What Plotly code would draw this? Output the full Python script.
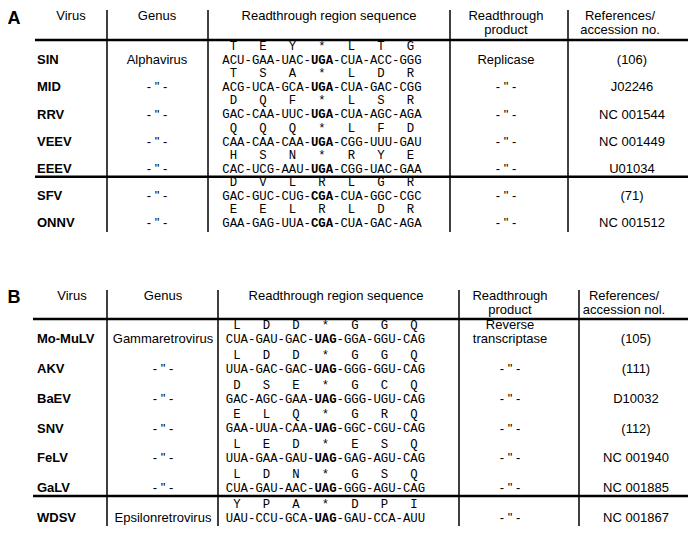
import plotly.graph_objects as go

# ---------------- Data ----------------
headers_a = ["Virus", "Genus", "Readthrough region sequence", "Readthrough\nproduct", "References/\naccession no."]
headers_b = ["Virus", "Genus", "Readthrough region sequence", "Readthrough\nproduct", "References/\naccession nol."]

DITTO = '- " -'

a_virus = ["SIN", "MID", "RRV", "VEEV", "EEEV", "SFV", "ONNV"]
a_genus = ["Alphavirus", DITTO, DITTO, DITTO, DITTO, DITTO, DITTO]
a_aa = ["TEY*LTG", "TSA*LDR", "DQF*LSR", "QQQ*LFD", "HSN*RYE", "DVLRLGR", "EELRLDR"]
a_codons = [
    "ACU-GAA-UAC-UGA-CUA-ACC-GGG",
    "ACG-UCA-GCA-UGA-CUA-GAC-CGG",
    "GAC-CAA-UUC-UGA-CUA-AGC-AGA",
    "CAA-CAA-CAA-UGA-CGG-UUU-GAU",
    "CAC-UCG-AAU-UGA-CGG-UAC-GAA",
    "GAC-GUC-CUG-CGA-CUA-GGC-CGC",
    "GAA-GAG-UUA-CGA-CUA-GAC-AGA",
]
a_product = ["Replicase", DITTO, DITTO, DITTO, DITTO, DITTO, DITTO]
a_refs = ["(106)", "J02246", "NC 001544", "NC 001449", "U01034", "(71)", "NC 001512"]

b_virus = ["Mo-MuLV", "AKV", "BaEV", "SNV", "FeLV", "GaLV", "WDSV"]
b_genus = ["Gammaretrovirus", DITTO, DITTO, DITTO, DITTO, DITTO, "Epsilonretrovirus"]
b_aa = ["LDD*GGQ", "LDD*GGQ", "DSE*GCQ", "ELQ*GRQ", "LED*ESQ", "LDN*GSQ", "YPA*DPI"]
b_codons = [
    "CUA-GAU-GAC-UAG-GGA-GGU-CAG",
    "UUA-GAC-GAC-UAG-GGG-GGU-CAG",
    "GAC-AGC-GAA-UAG-GGG-UGU-CAG",
    "GAA-UUA-CAA-UAG-GGC-CGU-CAG",
    "UUA-GAA-GAU-UAG-GAG-AGU-CAG",
    "CUA-GAU-AAC-UAG-GGG-AGU-CAG",
    "UAU-CCU-GCA-UAG-GAU-CCA-AUU",
]
b_product = ["Reverse\ntranscriptase", DITTO, DITTO, DITTO, DITTO, DITTO, DITTO]
b_refs = ["(105)", "(111)", "D10032", "(112)", "NC 001940", "NC 001885", "NC 001867"]

# ---------------- Layout geometry (page pixels) ----------------
W, H = 697, 539
OFF = 8  # default body margin of the html page
SANS = "Liberation Sans, Arial, Helvetica, sans-serif"
MONO = "Liberation Mono, Courier New, monospace"
INK = "#000000"

panel_a = dict(label="A", label_y=19, vlines=[107, 208, 450, 568], vtop=10, vbot=232, hline_y=40,
               hx0=35, hx1=688, virus_x=37, virus_hdr_x=71, genus_x=157, seq_x=322,
               seq_hdr_x=329, prod_x=506, ref_x=632, ref_hdr_x=620, hdr_y=17,
               row0=61, dy=27.2, sep_after=4, headers=headers_a, virus=a_virus,
               genus=a_genus, aa=a_aa, codons=a_codons, product=a_product, refs=a_refs)
panel_b = dict(label="B", label_y=298, vlines=[107, 218, 459, 579], vtop=290, vbot=526, hline_y=319,
               hx0=33, hx1=688, virus_x=37, virus_hdr_x=72, genus_x=163, seq_x=325.5,
               seq_hdr_x=336, prod_x=510, ref_x=636, ref_hdr_x=624, hdr_y=297,
               row0=340, dy=29.8, sep_after=5, headers=headers_b, virus=b_virus,
               genus=b_genus, aa=b_aa, codons=b_codons, product=b_product, refs=b_refs)

NB = "\u00a0"


def aa_line(s):
    return NB.join(NB + ch + NB for ch in s)


def codon_line(s):
    parts = s.split("-")
    parts[3] = "<b>" + parts[3] + "</b>"
    return "-".join(parts)


fig = go.Figure()
shapes = []


def add_text(xs, ys, texts, size, family=SANS, pos="middle center", bold=False):
    if bold:
        texts = ["<b>" + t + "</b>" for t in texts]
    fig.add_trace(go.Scatter(
        x=xs, y=ys, text=texts, mode="text", textposition=pos,
        textfont=dict(size=size, family=family, color=INK),
        hoverinfo="skip", showlegend=False, cliponaxis=False))


def multiline(x, y, text, gap=14):
    lines = text.split("\n")
    return [x] * len(lines), [y + i * gap for i in range(len(lines))], lines


for P in (panel_a, panel_b):
    n = len(P["virus"])
    ys = [P["row0"] + i * P["dy"] for i in range(n)]
    ys_aa = [y - 14 for y in ys]

    # panel letter
    add_text([14], [P["label_y"]], [P["label"]], 18, bold=True)

    # headers
    hdr_x = [P["virus_hdr_x"], P["genus_x"], P["seq_hdr_x"], P["prod_x"], P["ref_hdr_x"]]
    for hx, ht in zip(hdr_x, P["headers"]):
        xs, yy, tt = multiline(hx, P["hdr_y"], ht)
        add_text(xs, yy, tt, 13)

    # virus names (bold, left aligned)
    add_text([P["virus_x"]] * n, ys, P["virus"], 13, pos="middle right", bold=True)
    # genus
    add_text([P["genus_x"]] * n, ys, P["genus"], 13)
    # sequences
    add_text([P["seq_x"]] * n, ys_aa, [aa_line(s) for s in P["aa"]], 12.3, family=MONO)
    add_text([P["seq_x"]] * n, ys, [codon_line(s) for s in P["codons"]], 12.3, family=MONO)
    # product
    px, py, pt = [], [], []
    for y, t in zip(ys, P["product"]):
        lines = t.split("\n")
        start = y - 14 * (len(lines) - 1)
        for k, ln in enumerate(lines):
            px.append(P["prod_x"]); py.append(start + 14 * k); pt.append(ln)
    add_text(px, py, pt, 13)
    # references
    add_text([P["ref_x"]] * n, ys, P["refs"], 13)

    # lines
    for vx in P["vlines"]:
        shapes.append(dict(type="line", xref="x", yref="y", x0=vx, x1=vx,
                           y0=P["vtop"], y1=P["vbot"], line=dict(color=INK, width=1.5)))
    shapes.append(dict(type="line", xref="x", yref="y", x0=P["hx0"], x1=P["hx1"],
                       y0=P["hline_y"], y1=P["hline_y"], line=dict(color=INK, width=2.5)))
    sep_y = ys[P["sep_after"]] + 7
    shapes.append(dict(type="line", xref="x", yref="y", x0=P["hx0"], x1=P["hx1"],
                       y0=sep_y, y1=sep_y, line=dict(color=INK, width=2.5)))

# figure sits inside the page's 8px body margin; axes map 1 unit = 1 page pixel
fig.update_layout(
    width=W - 2 * OFF, height=H - 2 * OFF,
    margin=dict(l=0, r=0, t=0, b=0),
    paper_bgcolor="white", plot_bgcolor="white",
    xaxis=dict(range=[OFF, W - OFF], visible=False, fixedrange=True),
    yaxis=dict(range=[H - OFF, OFF], visible=False, fixedrange=True),
    shapes=shapes,
)

fig.write_html("out.html")
